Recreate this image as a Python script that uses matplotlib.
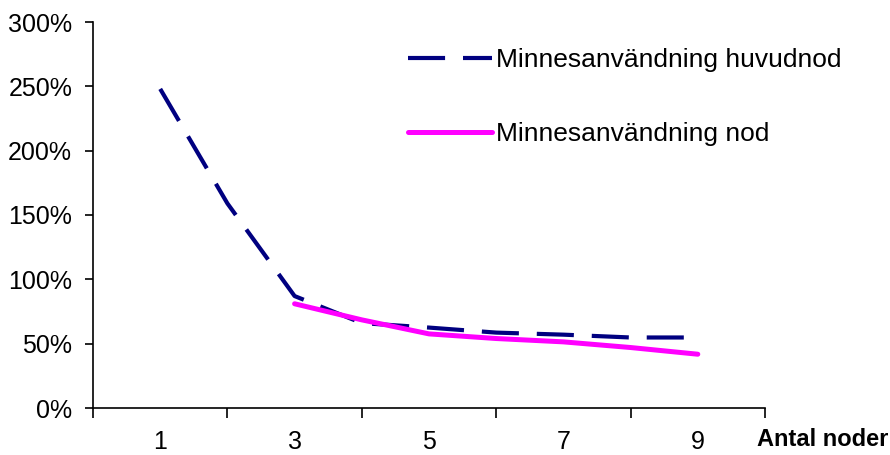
import matplotlib
matplotlib.use("Agg")
import matplotlib.pyplot as plt
from matplotlib.ticker import FixedLocator, FuncFormatter

plt.rcParams['font.family'] = ['Liberation Sans', 'DejaVu Sans']

# data (fraction, 1.0 = 100%)
noder = [1, 2, 3, 4, 5, 6, 7, 8, 9]
huvudnod = [2.48, 1.59, 0.87, 0.66, 0.625, 0.586, 0.57, 0.548, 0.548]
noder_nod = [3, 4, 5, 6, 7, 8, 9]
nod = [0.81, 0.685, 0.576, 0.54, 0.514, 0.47, 0.418]

x_labels = [1, 3, 5, 7, 9]
x_ticks = [0, 2, 4, 6, 8, 10]
y_ticks = [0, 0.5, 1.0, 1.5, 2.0, 2.5, 3.0]

fig = plt.figure(figsize=(8.9, 4.55), dpi=100)
ax = fig.add_axes([93 / 890, 1 - 408 / 455, (765 - 93) / 890, (408 - 22) / 455])

ax.plot(noder, huvudnod, color='#000080', lw=3.0, dashes=(8.9, 4.3),
        label='Minnesanvändning huvudnod')
ax.plot(noder_nod, nod, color='#FF00FF', lw=3.6, solid_capstyle='round',
        label='Minnesanvändning nod')

ax.set_xlim(0, 10)
ax.set_ylim(0, 3.0)

ax.xaxis.set_major_locator(FixedLocator(x_ticks))
ax.xaxis.set_minor_locator(FixedLocator(x_labels))
ax.set_xticklabels([])
ax.xaxis.set_minor_formatter(FuncFormatter(lambda v, p: f"{int(v)}"))
ax.tick_params(axis='x', which='major', direction='out', length=7, width=1.2)
ax.tick_params(axis='x', which='minor', length=0, pad=16, labelsize=18)

ax.yaxis.set_major_locator(FixedLocator(y_ticks))
ax.yaxis.set_major_formatter(FuncFormatter(lambda v, p: f"{v * 100:.0f}%"))
ax.tick_params(axis='y', direction='out', length=6, width=1.2, pad=9, labelsize=18)

ax.spines['top'].set_visible(False)
ax.spines['right'].set_visible(False)
ax.spines['left'].set_linewidth(1.2)
ax.spines['bottom'].set_linewidth(1.2)

fig.text(888 / 890, 1 - 440 / 455, 'Antal noder', ha='right', va='center',
         fontsize=17, fontweight='bold')

leg = ax.legend(loc='upper left', bbox_to_anchor=(408 / 890, 1 - 48 / 455),
                bbox_transform=fig.transFigure, frameon=False, fontsize=19,
                handlelength=3.2, handletextpad=0.15, labelspacing=1.9,
                borderpad=0, borderaxespad=0)

fig.savefig('out.png', dpi=100)
